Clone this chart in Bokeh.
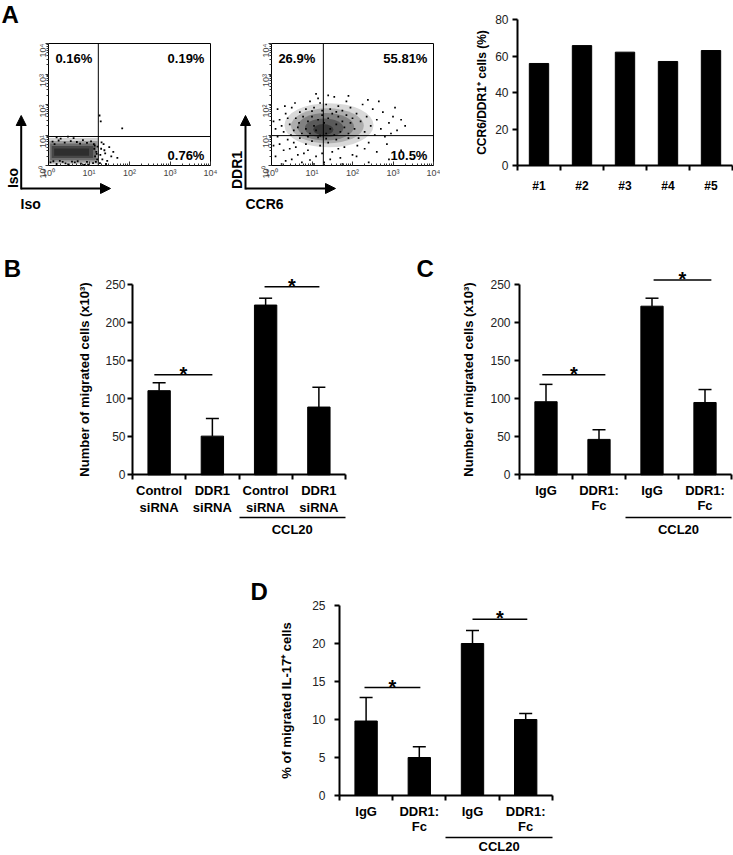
import math
from bokeh.plotting import figure
from bokeh.models import (Range1d, FixedTicker, LinearAxis, Label, Arrow, NormalHead,
                          Whisker, TeeHead, ColumnDataSource)
from bokeh.layouts import row, column
from bokeh.embed import file_html
from bokeh.resources import INLINE
from bokeh.core.properties import value

FONT = "Liberation Sans"

# ---------------- Panel A: flow cytometry (log10 units) ----------------
decade_labels = ["10\u2070", "10\u00b9", "10\u00b2", "10\u00b3", "10\u2074"]
iso_pct = ["0.16%", "0.19%", "0.76%"]
ccr6_pct = ["26.9%", "55.81%", "10.5%"]
iso_gate_x, iso_gate_y = 1.23, 0.95
ccr6_gate_x, ccr6_gate_y = 1.28, 0.98

# isotype control: dense population piled at the low end (density layers)
iso_core_left = [0.01, 0.02, 0.04, 0.08, 0.14]
iso_core_right = [1.23, 1.21, 1.17, 1.1, 1.0]
iso_core_bottom = [0.04, 0.1, 0.17, 0.25, 0.32]
iso_core_top = [0.9, 0.8, 0.72, 0.64, 0.56]
iso_core_a = [0.18, 0.25, 0.3, 0.35, 0.35]

# CCR6 / DDR1 stain: dense population (center, spread, density layers)
ccr6_core_x = [1.42, 1.38, 1.34, 1.3, 1.28]
ccr6_core_y = [1.32, 1.3, 1.27, 1.23, 1.18]
ccr6_core_w = [2.2, 1.8, 1.4, 0.95, 0.5]
ccr6_core_h = [1.45, 1.15, 0.9, 0.62, 0.36]
ccr6_core_a = [0.15, 0.2, 0.25, 0.3, 0.35]

iso_x = [0.1, 0.25, 0.4, 0.55, 0.7, 0.85, 0.95, 1.05, 0.3, 0.62, 0.15, 0.78, 0.48, 1.12, 0.2,
         0.05, 0.2, 0.35, 0.5, 0.65, 0.8, 0.95, 1.1, 0.28, 0.72, 0.42, 1.0, 0.12, 0.58, 0.88,
         1.15, 1.18, 1.2, 1.13, 1.21, 1.17, 1.19, 1.14,
         1.28, 1.3, 1.33, 1.36, 1.4, 1.45, 1.5, 1.55, 1.27, 1.38, 1.6, 1.31, 1.42, 1.26, 1.82, 1.29, 1.7]
iso_y = [0.78, 0.82, 0.75, 0.8, 0.77, 0.83, 0.74, 0.79, 0.88, 0.9, 0.7, 0.72, 0.95, 0.7, 0.92,
         0.1, 0.05, 0.12, 0.04, 0.1, 0.06, 0.12, 0.08, 0.15, 0.14, 0.07, 0.03, 0.14, 0.13, 0.02,
         0.3, 0.45, 0.2, 0.55, 0.62, 0.12, 0.38, 0.65,
         0.35, 0.55, 0.2, 0.7, 0.4, 0.15, 0.6, 0.3, 0.08, 0.5, 0.45, 0.76, 0.05, 1.64, 1.22, 1.45, 0.25]

ccr6_x = [0.1, 0.2, 0.3, 0.35, 0.45, 0.5, 0.55, 0.6, 0.65, 0.7, 0.75, 0.15, 0.25, 0.4, 0.05, 0.58, 0.68, 0.78, 0.48, 0.33,
          0.1, 0.2, 0.3, 0.4, 0.5, 0.6, 0.7, 0.8, 0.15, 0.35, 0.55, 0.65, 0.85, 0.25, 0.75, 0.45, 0.05, 0.9,
          0.85, 0.95, 1.05, 1.15, 1.25, 1.35, 1.45, 1.55, 1.65, 1.75, 1.85, 1.95, 1.1, 1.4, 1.0, 1.6, 1.2, 1.9,
          0.9, 1.0, 1.1, 1.2, 1.3, 1.4, 1.5, 1.6, 1.7, 1.8, 1.9, 2.0, 1.05, 1.25, 1.45, 1.65, 1.35, 1.15, 0.95, 1.75,
          0.85, 0.9, 0.95, 1.0, 1.05, 1.1, 1.15, 1.2, 1.25, 1.3, 1.35, 1.4, 1.45, 1.5, 1.55, 1.6, 1.65, 1.7, 1.75, 1.8,
          1.85, 1.9, 1.95, 2.0,
          2.05, 2.1, 2.15, 2.2, 2.25, 2.3, 2.35, 2.4, 2.45, 2.5, 2.55, 2.6, 2.7, 2.75, 2.8, 2.9, 3.0, 3.1, 3.2, 2.65,
          2.85, 3.05, 2.12, 2.38, 2.95, 3.3,
          2.1, 2.4, 2.6, 2.9, 3.2, 2.3]
ccr6_y = [1.2, 1.5, 1.1, 1.7, 1.35, 1.9, 1.15, 1.55, 1.25, 1.75, 1.05, 1.85, 1.3, 1.55, 1.45, 2.05, 1.4, 1.6, 1.0, 1.95,
          0.3, 0.7, 0.5, 0.85, 0.2, 0.6, 0.9, 0.4, 0.95, 0.15, 0.75, 0.35, 0.7, 0.05, 0.1, 0.55, 0.65, 0.95,
          1.85, 2.1, 1.9, 2.2, 1.8, 2.0, 1.85, 2.25, 1.95, 1.8, 2.1, 1.9, 2.35, 2.3, 1.78, 1.76, 2.05, 2.28,
          0.5, 0.8, 0.3, 0.65, 0.1, 0.75, 0.45, 0.85, 0.25, 0.6, 0.9, 0.35, 0.05, 0.4, 0.2, 0.55, 0.88, 0.92, 0.18, 0.05,
          1.2, 1.45, 1.05, 1.6, 1.3, 1.15, 1.5, 0.98, 1.65, 1.4, 1.05, 1.55, 1.2, 1.7, 1.0, 1.35, 1.6, 1.1, 1.45, 1.25,
          1.65, 1.05, 1.4, 1.55,
          1.2, 1.7, 0.9, 1.45, 2.0, 1.1, 1.6, 0.75, 1.3, 1.85, 1.0, 1.5, 1.2, 1.75, 0.95, 1.4, 1.6, 1.15, 1.5, 2.1,
          0.7, 1.9, 0.65, 2.15, 1.05, 1.3,
          0.3, 0.1, 0.45, 0.2, 0.5, 0.55]

# ---------------- Panel A: bar chart ----------------
donors = ["#1", "#2", "#3", "#4", "#5"]
ccr6_ddr1_pct = [55.9, 65.7, 62.1, 57.0, 63.0]

# ---------------- Panel B ----------------
b_labels = ["Control\nsiRNA", "DDR1\nsiRNA", "Control\nsiRNA", "DDR1\nsiRNA"]
b_means = [110.5, 50.8, 223.0, 89.0]
b_errs = [10.5, 23.0, 9.0, 26.0]
b_sig_x0 = [0.41, 2.48]
b_sig_x1 = [1.50, 3.51]
b_sig_y = [131.6, 247.0]

# ---------------- Panel C ----------------
c_labels = ["IgG", "DDR1:\nFc", "IgG", "DDR1:\nFc"]
c_means = [96.0, 46.5, 221.5, 95.0]
c_errs = [22.8, 12.7, 10.5, 17.0]
c_sig_x0 = [0.43, 2.53]
c_sig_x1 = [1.62, 3.62]
c_sig_y = [131.6, 256.0]

# ---------------- Panel D ----------------
d_labels = ["IgG", "DDR1:\nFc", "IgG", "DDR1:\nFc"]
d_means = [9.8, 5.0, 20.0, 10.0]
d_errs = [3.1, 1.4, 1.7, 0.8]
d_sig_x0 = [0.47, 2.50]
d_sig_x1 = [1.52, 3.53]
d_sig_y = [14.2, 23.2]

treatment = "CCL20"

# ---------------- geometry (pixels) ----------------
H1, H2, H3 = 213, 332, 310
FLOW_PPU_X, FLOW_PPU_Y, FLOW_Y0 = 40.5, 30.5, 165


def fig(w, h, x0px, xppu, y0px, yppu):
    """Figure whose frame fills the whole canvas; value 0 sits at pixel (x0px, y0px)."""
    xr = Range1d(-x0px / xppu, (w - x0px) / xppu)
    yr = Range1d((y0px - h) / yppu, y0px / yppu)
    p = figure(width=w, height=h, x_range=xr, y_range=yr, title=None,
               output_backend="svg", toolbar_location=None,
               x_axis_location=None, y_axis_location=None, min_border=0)
    p.grid.visible = False
    p.outline_line_color = None
    p.background_fill_color = "white"
    p.border_fill_color = "white"
    return p


def add_axis(p, side, loc, ticks, bounds, minor=None, labels=None):
    ax = LinearAxis(fixed_location=loc, ticker=FixedTicker(ticks=ticks, minor_ticks=minor or []),
                    bounds=bounds)
    if labels is not None:
        ax.major_label_overrides = labels
    ax.major_label_text_font = FONT
    p.add_layout(ax, side)
    return ax


def add_label(p, x, y, text, size, bold=True, align="left", baseline="middle", angle=0.0, color="black"):
    p.add_layout(Label(x=x, y=y, text=text, text_font=FONT, text_font_size=size,
                       text_font_style="bold" if bold else "normal", text_align=align,
                       text_baseline=baseline, angle=angle, text_color=color))


FLOW_MINOR = [d + math.log10(k) for d in range(4) for k in range(2, 10)]


def flow_frame(p, gate, pct, ylab, ylab_xy, xlab, xlab_xy, corner, tips):
    n = len(decade_labels) - 1
    p.segment(x0=[0, n, gate[0], 0], y0=[n, 0, 0, gate[1]], x1=[n, n, gate[0], n], y1=[n, n, n, gate[1]],
              line_color="black", line_width=1)
    overrides = {i: lab for i, lab in enumerate(decade_labels)}
    xa = add_axis(p, "below", 0, list(range(n + 1)), (0, n), FLOW_MINOR, overrides)
    xa.major_tick_in = 4
    xa.major_tick_out = 0
    xa.minor_tick_in = 2
    xa.minor_tick_out = 0
    xa.major_label_standoff = 2
    ya = add_axis(p, "left", 0, list(range(n + 1)), (0, n), FLOW_MINOR, overrides)
    ya.major_tick_in = 0
    ya.major_tick_out = 3
    ya.minor_tick_in = 0
    ya.minor_tick_out = 2
    ya.major_label_standoff = 3
    ya.major_label_orientation = math.pi / 2
    for ax in (xa, ya):
        ax.axis_line_color = "black"
        ax.axis_line_width = 1
        ax.major_label_text_font_size = "9px"
        ax.major_label_text_color = "#444444"
        ax.major_tick_line_color = "#333333"
        ax.minor_tick_line_color = "#333333"
    add_label(p, 0.17, 3.51, pct[0], "13px", align="left")
    add_label(p, 3.85, 3.51, pct[1], "13px", align="right")
    add_label(p, 3.85, 0.34, pct[2], "13px", align="right")
    ax0, ay0 = corner
    p.add_layout(Arrow(end=NormalHead(size=10, fill_color="black", line_color="black", line_width=1),
                       x_start=ax0, y_start=ay0 - 1.0 / FLOW_PPU_Y, x_end=ax0, y_end=tips[1],
                       line_width=2, line_color="black"))
    p.add_layout(Arrow(end=NormalHead(size=10, fill_color="black", line_color="black", line_width=1),
                       x_start=ax0, y_start=ay0, x_end=tips[0], y_end=ay0,
                       line_width=2, line_color="black"))
    add_label(p, ylab_xy[0], ylab_xy[1], ylab, "14px", align="center", angle=math.pi / 2)
    add_label(p, xlab_xy[0], xlab_xy[1], xlab, "14px", align="left")


def style_y(ya, label, tick_standoff, label_standoff, label_size="13px"):
    ya.axis_line_width = 2
    ya.axis_line_color = "black"
    ya.major_tick_out = 5
    ya.major_tick_in = 0
    ya.major_tick_line_width = 2
    ya.minor_tick_line_color = None
    ya.major_label_text_font_size = "12px"
    ya.major_label_text_color = "#222222"
    ya.major_label_standoff = tick_standoff
    ya.axis_label = label
    ya.axis_label_text_font = FONT
    ya.axis_label_text_font_size = label_size
    ya.axis_label_text_font_style = "bold"
    ya.axis_label_text_color = "black"
    ya.axis_label_standoff = label_standoff


def cat_axis(p, labels, size, standoff, line_height):
    n = len(labels)
    centers = [i + 0.5 for i in range(n)]
    xa = add_axis(p, "below", 0, centers, (0, n), list(range(n + 1)),
                  {c: l for c, l in zip(centers, labels)})
    xa.major_tick_in = 0
    xa.major_tick_out = 0
    xa.minor_tick_in = 0
    xa.minor_tick_out = 5
    xa.minor_tick_line_width = 2
    xa.minor_tick_line_color = "black"
    xa.axis_line_width = 2
    xa.axis_line_color = "black"
    xa.major_label_text_font_size = size
    xa.major_label_text_font_style = "bold"
    xa.major_label_text_color = "black"
    xa.major_label_standoff = standoff
    xa.major_label_text_line_height = line_height
    return xa


def bar_panel(w, h, x0px, xppu, y0px, yppu, ybound, ystep, labels, means, errs,
              sx0, sx1, sy, ylabel, tick_standoff, label_standoff, line_height,
              group_y, group_standoff, letter, letter_xy):
    n = len(labels)
    p = fig(w, h, x0px, xppu, y0px, yppu)
    centers = [i + 0.5 for i in range(n)]
    p.vbar(x=centers, top=means, width=0.42, fill_color="black", line_color="black")
    src = ColumnDataSource(dict(x=centers, lower=means, upper=[m + e for m, e in zip(means, errs)]))
    p.add_layout(Whisker(source=src, base="x", lower="lower", upper="upper", dimension="height",
                         line_width=1.5, line_color="black", lower_head=None,
                         upper_head=TeeHead(size=13, line_width=1.5, line_color="black")))
    p.segment(x0=sx0, y0=sy, x1=sx1, y1=sy, line_width=1.5, line_color="black")
    p.text(x=[(a + b) / 2 for a, b in zip(sx0, sx1)], y=sy, text=["*"] * len(sy),
           text_font=value(FONT), text_font_size="20px", text_font_style="bold",
           text_align="center", text_baseline="alphabetic", y_offset=-1, text_color="black")
    ya = add_axis(p, "left", 0, list(range(0, ybound + 1, ystep)), (0, ybound))
    style_y(ya, ylabel, tick_standoff, label_standoff)
    cat_axis(p, labels, "13px", 3, line_height)
    # group bracket for the chemokine-treated conditions
    g = add_axis(p, "below", group_y, [n - 1.0], (n - 2, n), None, {n - 1.0: treatment})
    g.major_tick_in = 0
    g.major_tick_out = 0
    g.minor_tick_line_color = None
    g.axis_line_width = 1.5
    g.axis_line_color = "black"
    g.major_label_standoff = group_standoff
    g.major_label_text_font_size = "13px"
    g.major_label_text_font_style = "bold"
    g.major_label_text_color = "black"
    add_label(p, letter_xy[0], letter_xy[1], letter, "24px", align="left")
    return p


# ---- Row 1 ----
f1 = fig(225, H1, 48, FLOW_PPU_X, FLOW_Y0, FLOW_PPU_Y)
f1.quad(left=iso_core_left, right=iso_core_right, bottom=iso_core_bottom, top=iso_core_top,
        fill_color="black", fill_alpha=iso_core_a, line_color=None)
f1.scatter(x=iso_x, y=iso_y, marker="square", size=1.8, fill_color="black", line_color=None)
flow_frame(f1, (iso_gate_x, iso_gate_y), iso_pct, "Iso", (-0.881, -0.41), "Iso", (-0.691, -1.246),
           (-0.674, -0.754), (1.531, 1.639))
add_label(f1, -1.16, 4.95, "A", "24px", align="left")

f2 = fig(215, H1, 46, FLOW_PPU_X, FLOW_Y0, FLOW_PPU_Y)
f2.ellipse(x=ccr6_core_x, y=ccr6_core_y, width=ccr6_core_w, height=ccr6_core_h,
           fill_color="black", fill_alpha=ccr6_core_a, line_color=None)
f2.scatter(x=ccr6_x, y=ccr6_y, marker="square", size=1.7, fill_color="black", line_color=None)
flow_frame(f2, (ccr6_gate_x, ccr6_gate_y), ccr6_pct, "DDR1", (-0.864, -0.148), "CCR6", (-0.642, -1.246),
           (-0.642, -0.754), (1.58, 1.639))

pa = fig(293, H1, 77, 43.0, 165, 1.825)
pa.vbar(x=[i + 0.5 for i in range(len(donors))], top=ccr6_ddr1_pct, width=0.45,
        fill_color="black", line_color="black")
ya_a = add_axis(pa, "left", 0, [0, 20, 40, 60, 80], (0, 80))
style_y(ya_a, "CCR6/DDR1\u207a cells (%)", 4, 3, "12px")
cat_axis(pa, donors, "12px", 8, 1.2)

# ---- Row 2 (rows start at y=213) ----
pb = bar_panel(405, H2, 132, 53.25, 261.3, 0.7612, 250, 50, b_labels, b_means, b_errs,
               b_sig_x0, b_sig_x1, b_sig_y, "Number of migrated cells (x10\u00b3)", 2, 10, 1.15,
               -56.1, 4, "B", (-2.42, 271.0))
pc = bar_panel(328, H2, 114, 53.0, 261.3, 0.7612, 250, 50, c_labels, c_means, c_errs,
               c_sig_x0, c_sig_x1, c_sig_y, "Number of migrated cells (x10\u00b3)", 4, 11, 1.0,
               -56.1, 4, "C", (-1.943, 270.4))

# ---- Row 3 (starts at y=545) ----
pd_ = bar_panel(733, H3, 339, 53.2, 250, 7.6, 25, 5, d_labels, d_means, d_errs,
                d_sig_x0, d_sig_x1, d_sig_y, "% of migrated IL-17\u207a cells", 9, 15, 1.0,
                -5.53, 1, "D", (-1.673, 26.78))

layout = column(row(f1, f2, pa), row(pb, pc), pd_)

with open("out.html", "w") as fh:
    fh.write(file_html(layout, INLINE))
